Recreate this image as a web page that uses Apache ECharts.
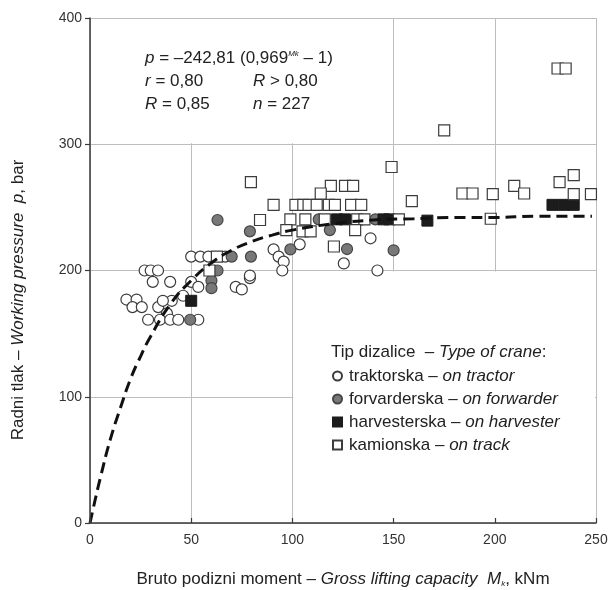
<!DOCTYPE html>
<html><head><meta charset="utf-8">
<script src="https://cdn.jsdelivr.net/npm/echarts@6/dist/echarts.min.js"></script>
<style>html,body{margin:0;padding:0;background:#fff}#c{width:610px;height:590px}</style>
</head><body><div id="c"></div>
<script>
const FONT = '"Liberation Sans", Arial, sans-serif';

// axis ranges / ticks
const xMin = 0, xMax = 250, xStep = 50;
const yMin = 0, yMax = 400, yStep = 100;

// legend names
const legendNames = ['traktorska', 'forvarderska', 'harvesterska', 'kamionska'];
const legendEnglish = ['on tractor', 'on forwarder', 'on harvester', 'on track'];

// tractor cranes (open circles) [M, p]
const tractor = [
  [18,177],[23,177],[21,171],[25.6,171],[33.7,171],[40.4,176],[36,176],[38,166],
  [28.7,161],[34.6,161],[39.6,161],[43.6,161],[53.5,161],[46,180],
  [31,191],[39.6,191],[50,191],[53.5,187],[72,187],[75,185],
  [27,200],[30,200],[33.6,200],[79,194],[79,196],
  [50,211],[54.5,211],[58.5,211],[66.8,211],
  [90.7,216.7],[93.2,211],[95.7,207],[95,200],[103.6,220.7],
  [125.4,205.6],[142,200],[138.6,225.5]
];
// forwarder cranes (grey circles)
const forwarder = [
  [63,240],[79,231],[70,211],[79.5,211],[63,200],[60,192],[60,186],[49.5,161],
  [99,216.7],[118.5,232],[113,240.5],[141,240.5],[127,217],[150,216]
];
// harvester cranes (black squares)
const harvester = [
  [50,176],[122,240.5],[126,240.5],[145,240.5],[148,240.5],[166.7,239.5],
  [228.5,252],[234,252],[239,252]
];
// truck cranes (open squares)
const truck = [
  [79.5,270],[84,240],[59,200],[62.7,211],[149,282],[119,267],[126,267],[130,267],
  [159,255],[90.7,252],[101.5,252],[105.4,252],[108,252],[112,252],[118,252],[121,252],
  [129,252],[134,252],[114,261],[99,240.5],[106.4,240.5],[116,240.5],[132,240.5],
  [135.6,240.5],[152.6,240.5],[97,232],[105,231],[109,231],[131,232],[120.5,219],
  [231,360],[235,360],[175,311],[184,261],[189,261],[199,260.5],[209.6,267],[214.5,261],
  [232,270],[239,275.6],[239,260.5],[247.5,260.5],[198,241]
];
// fitted curve
const curveM = [0,2.5,5,10,15,20,25,30,40,50,60,70,80,90,100,120,140,160,180,200,220,248];
const curveP = [0,18,35,66,91,114,132,148,174,192,206,216,223,228,232,237,240,241,242,242,243,243];

const chart = echarts.init(document.getElementById('c'));

const FS = 17;
const axisText = {color:'#333', fontSize:14, fontFamily:FONT};
const rich = {
  i:{fontStyle:'italic', fontSize:FS, fontFamily:FONT, color:'#222', fill:'#222'},
  n:{fontSize:FS, fontFamily:FONT, color:'#222', fill:'#222'},
  s:{fontStyle:'italic', fontSize:8, fontFamily:FONT, color:'#222', fill:'#222', verticalAlign:'bottom'},
  u:{fontStyle:'italic', fontSize:8, fontFamily:FONT, color:'#222', fill:'#222', verticalAlign:'top'}
};

const option = {
  animation:false,
  backgroundColor:'#fff',
  grid:{left:90, right:14, top:18, bottom:67, outerBoundsMode:'none', containLabel:false},
  xAxis:[{
    type:'value', min:xMin, max:xMax, interval:xStep, z:5,
    axisLine:{show:true, onZero:false, lineStyle:{color:'#3a3a3a', width:1.5}},
    axisTick:{show:true, inside:true, length:5, lineStyle:{color:'#3a3a3a', width:1.2}},
    axisLabel:Object.assign({margin:10}, axisText),
    splitLine:{show:false},
    name:'{n|Bruto podizni moment – }{i|Gross lifting capacity  M}{s|k}{n|, kNm}',
    nameLocation:'middle', nameGap:48,
    nameTextStyle:{rich:rich}
  },{
    type:'value', min:xMin, max:xMax, interval:xStep, z:0, position:'top',
    axisLine:{show:false}, axisTick:{show:false}, axisLabel:{show:false},
    splitLine:{show:true, lineStyle:{color:'#bdbdbd', width:1}}
  }],
  yAxis:[{
    type:'value', min:yMin, max:yMax, interval:yStep, z:5,
    axisLine:{show:true, onZero:false, lineStyle:{color:'#3a3a3a', width:1.5}},
    axisTick:{show:true, inside:false, length:5, lineStyle:{color:'#3a3a3a', width:1.2}},
    axisLabel:Object.assign({margin:8}, axisText),
    splitLine:{show:false}
  },{
    type:'value', min:yMin, max:yMax, interval:yStep, z:0, position:'right',
    axisLine:{show:false}, axisTick:{show:false}, axisLabel:{show:false},
    splitLine:{show:true, lineStyle:{color:'#bdbdbd', width:1}}
  }],
  legend:{
    orient:'vertical', left:327, top:361, itemWidth:9, itemHeight:9, itemGap:3,
    data:[
      {name:legendNames[0], icon:'circle'},
      {name:legendNames[1], icon:'circle'},
      {name:legendNames[2], icon:'rect'},
      {name:legendNames[3], icon:'rect'}
    ],
    formatter:function(name){
      const k = legendNames.indexOf(name);
      return '{a|' + name + ' – }{b|' + legendEnglish[k] + '}';
    },
    textStyle:{
      padding:[0,0,0,2], lineHeight:20,
      rich:{
        a:{fontSize:FS, fontFamily:FONT, color:'#222', lineHeight:20},
        b:{fontSize:FS, fontFamily:FONT, color:'#222', fontStyle:'italic', lineHeight:20}
      }
    }
  },
  series:[
    {name:legendNames[0], type:'scatter', data:tractor, symbol:'circle', symbolSize:11, z:2,
      itemStyle:{color:'#ffffff', borderColor:'#3c3c3c', borderWidth:1.2, opacity:1}},
    {name:legendNames[1], type:'scatter', data:forwarder, symbol:'circle', symbolSize:11, z:2,
      itemStyle:{color:'#787878', borderColor:'#454545', borderWidth:1.2, opacity:1}},
    {name:legendNames[2], type:'scatter', data:harvester, symbol:'rect', symbolSize:11, z:2,
      itemStyle:{color:'#1c1c1c', borderColor:'#1c1c1c', borderWidth:1, opacity:1}},
    {name:legendNames[3], type:'scatter', data:truck, symbol:'rect', symbolSize:11, z:2,
      itemStyle:{color:'#ffffff', borderColor:'#3c3c3c', borderWidth:1.2, opacity:1}},
    {name:'fit', type:'line', data:curveM.map((m,i)=>[m, curveP[i]]), smooth:true,
      showSymbol:false, symbol:'none', z:3,
      lineStyle:{color:'#111', width:3, type:[11,6]}}
  ]
};
chart.setOption(option);

function px(v){ return chart.convertToPixel({gridIndex:0}, v); }
const a0 = px([0,400]), a1 = px([150,300]);
const l0 = px([100,200]), l1 = px([250,0]);
chart.setOption({
  graphic:[
    {type:'rect', z:1, silent:true,
      shape:{x:a0[0]+1, y:a0[1]+1, width:a1[0]-a0[0]-2, height:a1[1]-a0[1]-2},
      style:{fill:'#fff'}},
    {type:'rect', z:1, silent:true,
      shape:{x:l0[0]+1, y:l0[1]+1, width:l1[0]-l0[0]-2, height:l1[1]-l0[1]-2},
      style:{fill:'#fff'}},
    {type:'text', z:6, silent:true, x:18, y:300, rotation:Math.PI/2,
      style:{text:'{n|Radni tlak – }{i|Working pressure  p}{n|, bar}', rich:rich,
        align:'center', verticalAlign:'middle'}},
    {type:'text', z:6, silent:true, x:145, y:58,
      style:{text:'{i|p}{n| = –242,81 (0,969}{u|Mk}{n| – 1)}', rich:rich, verticalAlign:'middle'}},
    {type:'text', z:6, silent:true, x:145, y:81,
      style:{text:'{i|r}{n| = 0,80}', rich:rich, verticalAlign:'middle'}},
    {type:'text', z:6, silent:true, x:253, y:81,
      style:{text:'{i|R}{n| > 0,80}', rich:rich, verticalAlign:'middle'}},
    {type:'text', z:6, silent:true, x:145, y:104,
      style:{text:'{i|R}{n| = 0,85}', rich:rich, verticalAlign:'middle'}},
    {type:'text', z:6, silent:true, x:253, y:104,
      style:{text:'{i|n}{n| = 227}', rich:rich, verticalAlign:'middle'}},
    {type:'text', z:6, silent:true, x:331, y:352,
      style:{text:'{n|Tip dizalice  – }{i|Type of crane}{n|:}', rich:rich, verticalAlign:'middle'}}
  ]
});
</script></body></html>
